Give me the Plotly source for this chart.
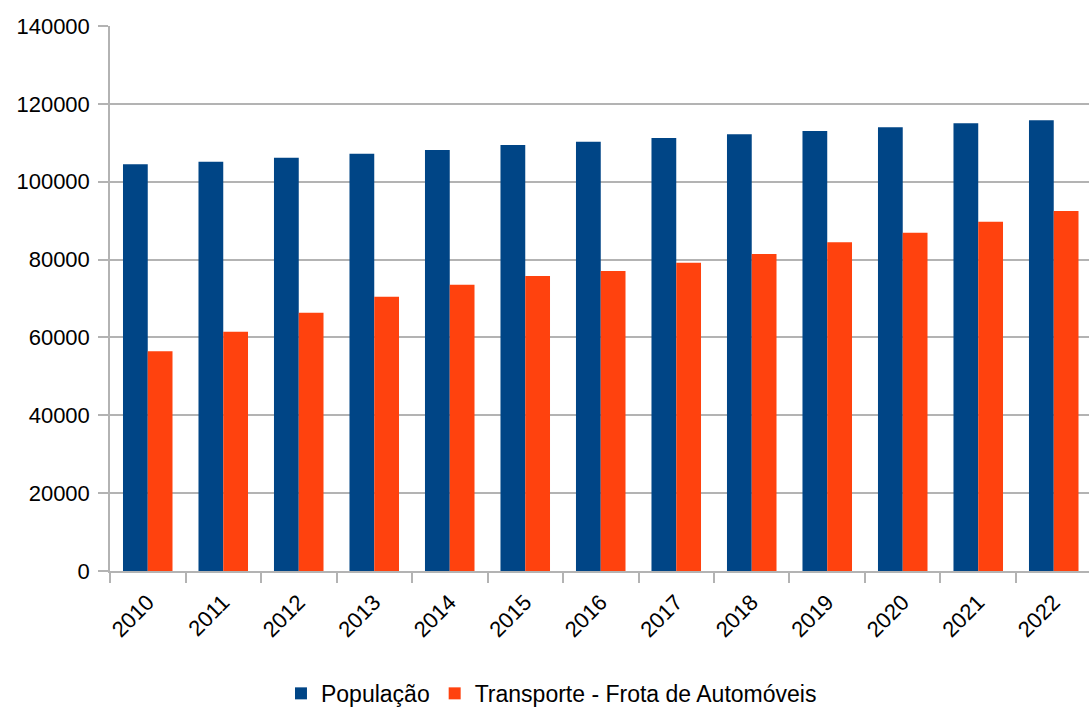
import plotly.graph_objects as go

anos = ["2010", "2011", "2012", "2013", "2014", "2015", "2016",
        "2017", "2018", "2019", "2020", "2021", "2022"]
populacao = [104480, 105150, 106180, 107210, 108150, 109440, 110290,
             111240, 112190, 113040, 113990, 115010, 115790]
frota_automoveis = [56440, 61480, 66360, 70470, 73550, 75790, 77070,
                    79200, 81440, 84440, 86910, 89740, 92480]
y_ticks = [0, 20000, 40000, 60000, 80000, 100000, 120000, 140000]

AZUL = "#004586"
LARANJA = "#ff420e"
CINZA = "#b3b3b3"
FONTE = "Liberation Sans, Arial, sans-serif"

fig = go.Figure()
fig.add_trace(go.Bar(x=anos, y=populacao, name="População",
                     marker=dict(color=AZUL, line=dict(width=0))))
fig.add_trace(go.Bar(x=anos, y=frota_automoveis,
                     name="Transporte - Frota de Automóveis",
                     marker=dict(color=LARANJA, line=dict(width=0))))

fig.update_layout(
    width=1089, height=709,
    margin=dict(l=110, r=0, t=26, b=138),
    paper_bgcolor="white", plot_bgcolor="white",
    barmode="group", bargap=0.344, bargroupgap=0,
    font=dict(family=FONTE, size=22, color="#000000"),
    legend=dict(orientation="h", xref="container", yref="container",
                x=0.5064, xanchor="center", y=0.022, yanchor="middle",
                font=dict(size=23), itemwidth=30, tracegroupgap=0),
    showlegend=True,
)

fig.update_xaxes(
    type="category", range=[-0.5, 12.467],
    showline=True, linecolor=CINZA, linewidth=1.5,
    ticks="outside", tickson="boundaries", ticklen=10, tickcolor=CINZA,
    tickwidth=1.5, tickangle=-45, showgrid=False,
    tickfont=dict(size=22), ticklabelstandoff=8,
)
fig.update_yaxes(
    range=[0, 140000], tickvals=y_ticks, ticktext=[str(v) for v in y_ticks],
    showline=True, linecolor=CINZA, linewidth=1.5,
    ticks="outside", ticklen=10, tickcolor=CINZA, tickwidth=1.5,
    showgrid=True, gridcolor=CINZA, gridwidth=1.5, zeroline=False,
    tickfont=dict(size=22), ticklabelstandoff=4,
)

fig.write_html("out.html")
